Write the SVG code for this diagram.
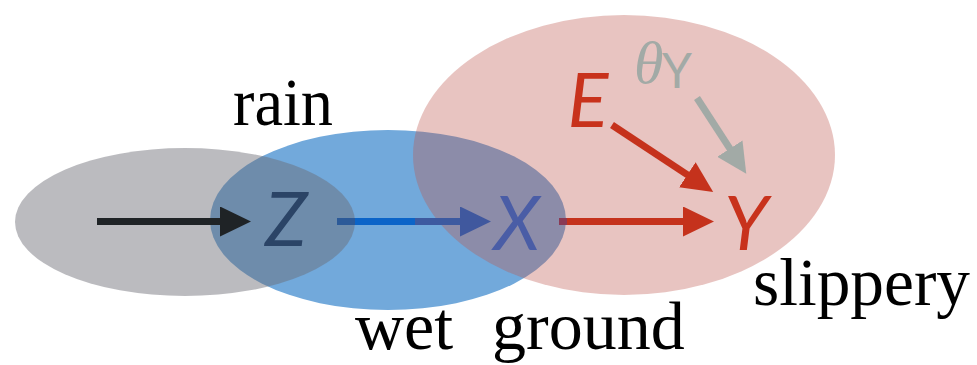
<svg xmlns="http://www.w3.org/2000/svg" width="977" height="365" viewBox="0 0 977 365">
<style>
.lbl{font-family:"Liberation Serif","Times New Roman",serif;font-size:68px;fill:#000}
.var{font-family:Lato,"Open Sans","DejaVu Sans",sans-serif;font-style:italic;font-size:76px;text-anchor:middle}
.ln{fill:none;stroke-width:7}
</style>
<defs>
<marker id="hBlack" markerUnits="userSpaceOnUse" markerWidth="32" markerHeight="30" refX="2" refY="15" orient="auto"><path d="M0,0 L31,15 L0,30 Z" fill="#1f2326"/></marker>
<marker id="hBlue" markerUnits="userSpaceOnUse" markerWidth="32" markerHeight="30" refX="2" refY="15" orient="auto"><path d="M0,0 L31,15 L0,30 Z" fill="#40589e"/></marker>
<marker id="hRed" markerUnits="userSpaceOnUse" markerWidth="32" markerHeight="30" refX="2" refY="15" orient="auto"><path d="M0,0 L31,15 L0,30 Z" fill="#c5321c"/></marker>
<marker id="hGrey" markerUnits="userSpaceOnUse" markerWidth="32" markerHeight="30" refX="2" refY="15" orient="auto"><path d="M0,0 L30,15 L0,30 Z" fill="#a2aaa6"/></marker>
<linearGradient id="gBlue" gradientUnits="userSpaceOnUse" x1="337" y1="0" x2="462" y2="0">
<stop offset="0" stop-color="#2c5a98"/><stop offset="0.144" stop-color="#2c5a98"/><stop offset="0.144" stop-color="#0b64c8"/><stop offset="0.624" stop-color="#0b64c8"/><stop offset="0.624" stop-color="#3d5aa0"/><stop offset="1" stop-color="#3d5aa0"/>
</linearGradient>
<linearGradient id="gRed" gradientUnits="userSpaceOnUse" x1="559" y1="0" x2="685" y2="0">
<stop offset="0" stop-color="#8a3a55"/><stop offset="0.064" stop-color="#8a3a55"/><stop offset="0.064" stop-color="#c5321c"/><stop offset="1" stop-color="#c5321c"/>
</linearGradient>
</defs>
<g id="regions">
<g id="wet-ground"><ellipse cx="388" cy="220" rx="178" ry="90" fill="#72a9db"/></g>
<g id="rain"><ellipse cx="185" cy="222" rx="170" ry="74" fill="rgb(107,106,115)" fill-opacity="0.46"/></g>
<g id="slippery"><ellipse cx="624" cy="155" rx="211" ry="140" fill="rgb(189,86,78)" fill-opacity="0.35"/></g>
</g>
<g id="connectors">
<path class="ln" d="M97,221.5 H222" stroke="#1f2326" marker-end="url(#hBlack)"/>
<path class="ln" d="M337,221.5 H462" stroke="url(#gBlue)" marker-end="url(#hBlue)"/>
<path class="ln" d="M559,221.5 H685" stroke="url(#gRed)" marker-end="url(#hRed)"/>
<path class="ln" d="M612,125 L689,175.9" stroke="#c5321c" marker-end="url(#hRed)"/>
<path class="ln" d="M697,98 L731,150.3" stroke="#a2aaa6" marker-end="url(#hGrey)"/>
</g>
<g id="node-Z"><text class="var" x="286" y="246" fill="#2b4466">Z</text></g>
<g id="node-X"><text class="var" x="517" y="250" fill="#4a5da6">X</text></g>
<g id="node-Y"><text class="var" x="746" y="250" fill="#c8321c">Y</text></g>
<g id="node-E"><text class="var" x="588" y="127" fill="#c8321c">E</text></g>
<g id="node-thetaY"><text x="634" y="83" fill="#a2aaa6" font-family="Liberation Serif,serif" font-style="italic" font-size="60">θ<tspan font-family="Lato,'Open Sans',sans-serif" font-style="normal" font-size="48" x="662" y="88">Y</tspan></text></g>
<g id="labels">
<text class="lbl" x="233" y="125" textLength="100" lengthAdjust="spacingAndGlyphs">rain</text>
<text class="lbl" x="355" y="349"><tspan>wet</tspan><tspan x="492">ground</tspan></text>
<text class="lbl" x="753" y="305" textLength="217" lengthAdjust="spacingAndGlyphs">slippery</text>
</g>
</svg>
